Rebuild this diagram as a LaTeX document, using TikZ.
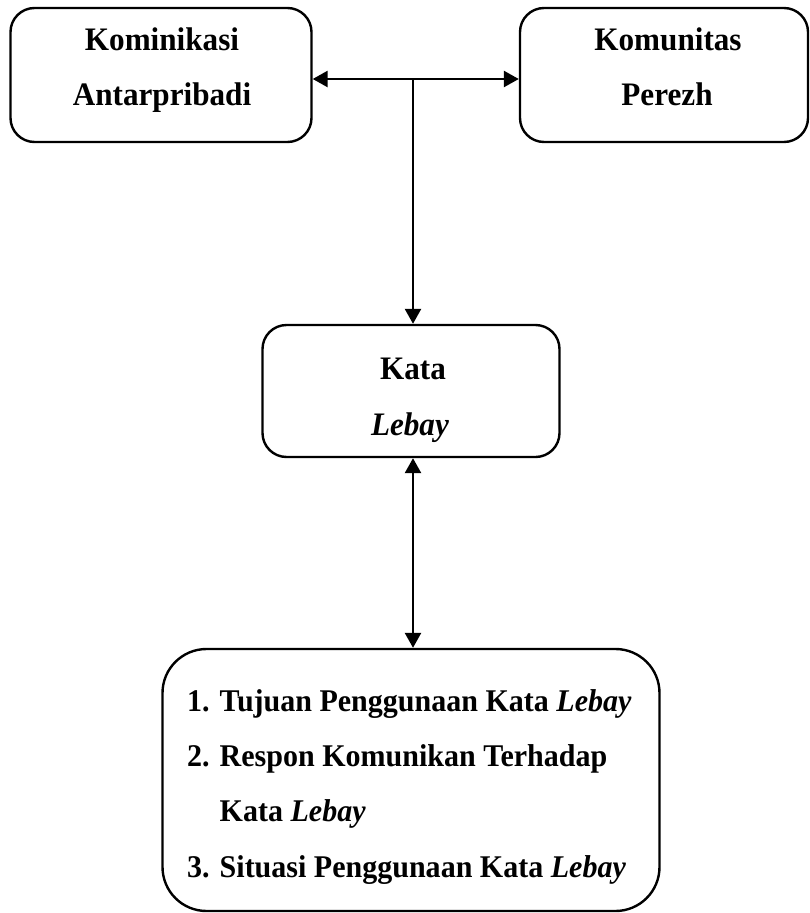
\documentclass[tikz,border=0pt]{standalone}
\usepackage{fontspec}
\setmainfont[FakeStretch=0.95]{Liberation Serif}
\usetikzlibrary{arrows.meta}
\tikzset{
  box/.style={draw, line width=2.4pt, rounded corners=24pt, inner sep=0pt},
  conn/.style={line width=2.6pt, {Triangle[length=15pt,width=16pt]}-{Triangle[length=15pt,width=16pt]}},
  oneway/.style={line width=2.6pt, -{Triangle[length=15pt,width=16pt]}},
  toptxt/.style={font=\fontsize{32.8}{40}\selectfont\bfseries, anchor=base, inner sep=0pt},
  listtxt/.style={font=\fontsize{31.6}{40}\selectfont\bfseries, anchor=base west, inner sep=0pt}
}
\begin{document}
\begin{tikzpicture}[x=1pt,y=-1pt]
\useasboundingbox (0,0) rectangle (810,913);
% boxes
\node[box, minimum width=301pt, minimum height=134pt] (kom) at (161,75) {};
\node[box, minimum width=288pt, minimum height=134pt] (per) at (664,75) {};
\node[box, minimum width=297pt, minimum height=132pt] (kata) at (411,391) {};
\node[box, rounded corners=44pt, minimum width=497pt, minimum height=262pt] (list) at (411,780) {};
% texts
\node[toptxt] (kom1) at (162,50) {Kominikasi};
\node[toptxt] (kom2) at (162,105) {Antarpribadi};
\node[toptxt] (per1) at (668,50) {Komunitas};
\node[toptxt] (per2) at (667,105) {Perezh};
\node[toptxt] (kata1) at (413,379) {Kata};
\node[toptxt] (kata2) at (410,435) {\textit{Lebay}};
\node[listtxt] (l1) at (187,711.5) {1. Tujuan Penggunaan Kata \textit{Lebay}};
\node[listtxt] (l2) at (187,766.5) {2. Respon Komunikan Terhadap};
\node[listtxt] (l2b) at (187,821.5) {\hphantom{2. }Kata \textit{Lebay}};
\node[listtxt] (l3) at (187,877) {3. Situasi Penggunaan Kata \textit{Lebay}};
% connectors
\coordinate (j) at (413,79);
\draw[conn] ([yshift=-4pt]kom.east) -- ([yshift=-4pt]per.west);
\draw[oneway] (j) -- (j |- kata.north);
\draw[conn] ([xshift=2pt]kata.south) -- ([xshift=2pt]list.north);
\end{tikzpicture}
\end{document}
